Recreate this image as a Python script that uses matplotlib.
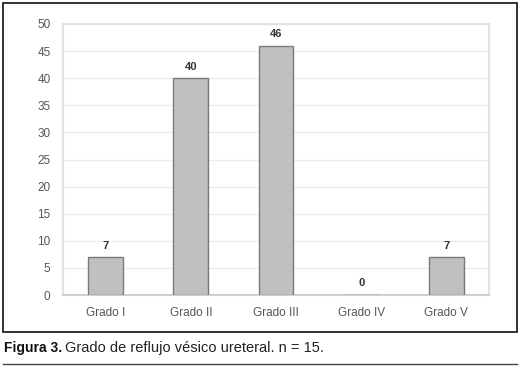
import matplotlib.pyplot as plt
from matplotlib.patches import Rectangle
from matplotlib.lines import Line2D

categories = ['Grado I', 'Grado II', 'Grado III', 'Grado IV', 'Grado V']
values = [7, 40, 46, 0, 7]
yticks = [0, 5, 10, 15, 20, 25, 30, 35, 40, 45, 50]

plt.rcParams['font.family'] = ['Liberation Sans', 'DejaVu Sans']

W, H = 523, 371
fig = plt.figure(figsize=(W / 100, H / 100), dpi=100)

# plot area in pixels: left 63, right 489, top 24, bottom 295
ax = fig.add_axes([63 / W, 1 - 295 / H, (489 - 63) / W, (295 - 24) / H])
x = range(len(categories))
ax.bar(x, values, width=0.41, color='#c0c0c0', edgecolor='#7a7a7a', linewidth=1.0, zorder=3)
for xi, v in zip(x, values):
    ax.text(xi, v + 1.2, str(v), ha='center', va='bottom', fontsize=8,
            fontweight='bold', color='#333333')

ax.set_xlim(-0.5, len(categories) - 0.5)
ax.set_ylim(0, 50)
ax.set_yticks(yticks)
ax.set_xticks(list(x))
ax.set_xticklabels(categories)
ax.tick_params(axis='both', length=0, labelsize=8.5, colors='#555555')
ax.tick_params(axis='y', pad=9)
ax.tick_params(axis='x', pad=9)
ax.grid(axis='y', color='#ececec', linewidth=1.0, zorder=0)
for side in ['top', 'right', 'left']:
    ax.spines[side].set_color('#e2e2e2')
    ax.spines[side].set_linewidth(1.5)
ax.spines['bottom'].set_color('#d0d0d0')
ax.spines['bottom'].set_linewidth(1.5)

# outer frame
fig.patches.append(Rectangle((3 / W, 1 - 332 / H), (517 - 3) / W, (332 - 3) / H,
                             transform=fig.transFigure, fill=False,
                             edgecolor='#222222', linewidth=1.3))
# rule under caption
fig.lines.append(Line2D([3 / W, 517 / W], [1 - 364 / H, 1 - 364 / H],
                        transform=fig.transFigure, color='#444444', linewidth=1.0))

t1 = fig.text(4 / W, 1 - 348 / H, 'Figura 3.', fontsize=10, fontweight='heavy',
              color='#111111', va='center', ha='left')
fig.canvas.draw()
bb = t1.get_window_extent()
fig.text((bb.x1 + 3) / W, 1 - 348 / H, 'Grado de reflujo vésico ureteral. n = 15.',
         fontsize=10.5, color='#222222', va='center', ha='left')

fig.savefig('out.png', dpi=100)
